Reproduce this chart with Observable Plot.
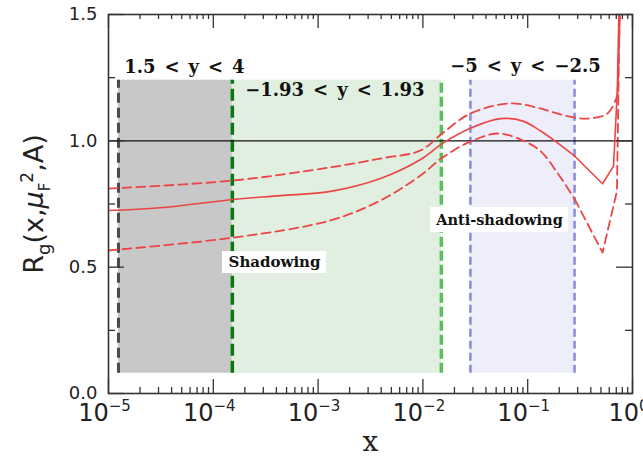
<!DOCTYPE html>
<html><head><meta charset="utf-8">
<script src="https://cdn.jsdelivr.net/npm/d3@7"></script>
<script src="https://cdn.jsdelivr.net/npm/@observablehq/plot@0.6"></script>
<style>body{margin:0;background:#fff}</style>
</head><body><div id="chart"></div>
<script>
// ---- data ----
const centralX = [1e-5, 3.1e-5, 1.56e-4, 4.4e-4, 1.31e-3, 3.94e-3, 9.5e-3, 0.0154, 0.0284, 0.055, 0.09, 0.132, 0.191, 0.28, 0.518, 0.659, 0.715, 0.75];
const centralY = [0.724, 0.735, 0.768, 0.783, 0.80, 0.851, 0.926, 0.99, 1.05, 1.088, 1.078, 1.04, 0.993, 0.94, 0.83, 0.90, 1.19, 1.6];
const upperX = [1e-5, 1.56e-4, 1.31e-3, 3.94e-3, 9.5e-3, 0.0154, 0.0284, 0.0685, 0.132, 0.165, 0.28, 0.372, 0.577, 0.72, 0.77];
const upperY = [0.811, 0.843, 0.895, 0.93, 0.962, 1.03, 1.108, 1.148, 1.128, 1.116, 1.092, 1.088, 1.108, 1.18, 1.6];
const lowerX = [1e-5, 1.56e-4, 1.31e-3, 3.94e-3, 9.5e-3, 0.0154, 0.0284, 0.0526, 0.0912, 0.132, 0.191, 0.28, 0.518, 0.71, 0.76];
const lowerY = [0.566, 0.617, 0.685, 0.764, 0.863, 0.934, 0.997, 1.029, 1.0, 0.96, 0.875, 0.77, 0.558, 0.80, 1.6];

const bandLabels = ["1.5 < y < 4", "\u22121.93 < y < 1.93", "\u22125 < y < \u22122.5"];
const bandXmin = [1.245e-5, 1.52e-4, 0.0284];
const bandXmax = [1.52e-4, 0.0150, 0.28];
const bandYmin = 0.08, bandYmax = 1.24;

const regionLabels = ["Shadowing", "Anti-shadowing"];

const xMajor = [1e-5, 1e-4, 1e-3, 1e-2, 1e-1, 1];
const yMajor = [0, 0.5, 1.0, 1.5];
const yMinor = [0.25, 0.75, 1.25];
const yTickLabels = ["0.0", "0.5", "1.0", "1.5"];

// ---- derived tables ----
const xMinor = xMajor.slice(0, -1).flatMap(d => [2,3,4,5,6,7,8,9].map(k => k * d));
const central = centralX.map((x, i) => ({x, y: centralY[i]}));
const upper = upperX.map((x, i) => ({x, y: upperY[i]}));
const lower = lowerX.map((x, i) => ({x, y: lowerY[i]}));
const bands = bandXmin.map((x1, i) => ({x1, x2: bandXmax[i], label: bandLabels[i], xc: Math.sqrt(x1 * bandXmax[i])}));

const W = 643, H = 456, mL = 108, mR = 11, mT = 14, mB = 63;
const pW = W - mL - mR, pH = H - mT - mB;
const RED = "#ec4545";
const labelFont = "DejaVu Serif";
const SPLIT = bandXmax[2]; // smooth part up to here, straight segments beyond

function bandRect(i, fill) {
  return Plot.rect([bands[i]], {x1: "x1", x2: "x2", y1: bandYmin, y2: bandYmax, fill});
}
function bandRule(xv, stroke, w, dash) {
  return Plot.ruleX([xv], {x: d => d, y1: bandYmin, y2: bandYmax, stroke, strokeWidth: w, strokeDasharray: dash});
}
function curve(data, split, opts) {
  return [
    Plot.line(data.filter(d => d.x <= split), {x: "x", y: "y", stroke: RED, curve: "catmull-rom", clip: true, ...opts}),
    Plot.line(data.filter(d => d.x >= split), {x: "x", y: "y", stroke: RED, curve: "linear", clip: true, ...opts})
  ];
}
const dashed = {strokeWidth: 1.8, strokeDasharray: "9,5"};

const chart = Plot.plot({
  width: W, height: H,
  marginLeft: mL, marginRight: mR, marginTop: mT, marginBottom: mB,
  x: {type: "log", domain: [1e-5, 1]},
  y: {domain: [0, 1.5]},
  style: {background: "white", fontFamily: "DejaVu Sans", color: "#222"},
  marks: [
    bandRect(0, "#c8c8c8"),
    bandRect(1, "#e0efe0"),
    bandRect(2, "#eeeefb"),
    bandRule(bandXmin[0], "#4a4a4a", 3, "10,5"),
    bandRule(bandXmin[1], "#08780f", 3.5, "12,5"),
    bandRule(bandXmax[1], "#5cbd5c", 3.5, "10,4"),
    bandRule(bandXmin[2], "#8a8ad8", 2.5, "8,4"),
    bandRule(bandXmax[2], "#8a8ad8", 2.5, "8,4"),
    Plot.ruleY([1.0], {stroke: "#111", strokeWidth: 1.4}),
    ...curve(upper, upperX[upperX.length - 2], dashed),
    ...curve(lower, SPLIT, dashed),
    ...curve(central, SPLIT, {strokeWidth: 1.6}),
    // region labels with white boxes
    Plot.rect([regionLabels[0]], {x1: 1.224e-4, x2: 1.2e-3, y1: 0.475, y2: 0.562, fill: "white"}),
    Plot.rect([regionLabels[1]], {x1: 0.0118, x2: 0.245, y1: 0.637, y2: 0.736, fill: "white"}),
    Plot.text([regionLabels[0]], {x: 3.84e-4, y: 0.518, text: d => d, fontFamily: labelFont, fontWeight: "bold", fontSize: 15, fill: "#111"}),
    Plot.text([regionLabels[1]], {x: 0.0538, y: 0.687, text: d => d, fontFamily: labelFont, fontWeight: "bold", fontSize: 14.5, fill: "#111"}),
    // rapidity labels
    Plot.text([bands[0]], {x: "xc", y: bandYmax, text: d => d.label.replace(/ /g, "\u2002"), dx: 9, dy: -7, lineAnchor: "bottom", fontFamily: labelFont, fontWeight: "bold", fontSize: 18, fill: "#111"}),
    Plot.text([bands[1]], {x: "xc", y: bandYmax, text: d => d.label.replace(/ /g, "\u2002"), dx: -2, dy: 16, lineAnchor: "bottom", fontFamily: labelFont, fontWeight: "bold", fontSize: 18, fill: "#111"}),
    Plot.text([bands[2]], {x: "xc", y: bandYmax, text: d => d.label.replace(/ /g, "\u2002"), dx: 3, dy: -8, lineAnchor: "bottom", fontFamily: labelFont, fontWeight: "bold", fontSize: 18, fill: "#111"}),
    Plot.frame({stroke: "#333", strokeWidth: 1.6}),
    // inward ticks on all four sides
    Plot.ruleX(xMajor, {x: d => d, insetTop: pH - 14, stroke: "#333", strokeWidth: 1.3}),
    Plot.ruleX(xMinor, {x: d => d, insetTop: pH - 6, stroke: "#333", strokeWidth: 1.3}),
    Plot.ruleX(xMajor, {x: d => d, insetBottom: pH - 14, stroke: "#333", strokeWidth: 1.3}),
    Plot.ruleX(xMinor, {x: d => d, insetBottom: pH - 5, stroke: "#333", strokeWidth: 1.3}),
    Plot.ruleY(yMajor, {y: d => d, insetRight: pW - 16, stroke: "#333", strokeWidth: 1.3}),
    Plot.ruleY(yMinor, {y: d => d, insetRight: pW - 7, stroke: "#333", strokeWidth: 1.3}),
    Plot.ruleY(yMajor, {y: d => d, insetLeft: pW - 16, stroke: "#333", strokeWidth: 1.3}),
    Plot.ruleY(yMinor, {y: d => d, insetLeft: pW - 7, stroke: "#333", strokeWidth: 1.3}),
    Plot.axisX(xMajor, {anchor: "bottom", tickSize: 0, tickPadding: 10, fontSize: 24, dx: -4, label: null,
      tickFormat: d => "10^" + Math.round(Math.log10(d))}),
    Plot.axisY(yMajor, {anchor: "left", tickSize: 0, tickPadding: 11, fontSize: 18, label: null,
      tickFormat: d => yTickLabels[yMajor.indexOf(d)]}),
    Plot.text(["x"], {frameAnchor: "bottom", dy: 57, lineAnchor: "bottom", textAnchor: "middle", text: d => d, fontFamily: labelFont, fontSize: 28, fill: "#222"}),
    Plot.text(["YLABEL"], {frameAnchor: "left", dx: -66, rotate: -90, lineAnchor: "bottom", textAnchor: "middle", text: d => d, fontSize: 27, fill: "#222"})
  ]
});

document.getElementById("chart").appendChild(chart);

// rich-text post-processing (superscripts / subscripts)
const NS = "http://www.w3.org/2000/svg";
function build(el, parts) {
  el.textContent = "";
  for (const p of parts) {
    const t = document.createElementNS(NS, "tspan");
    t.textContent = p.t;
    if (p.dy) t.setAttribute("dy", p.dy);
    if (p.fs) t.setAttribute("font-size", p.fs);
    if (p.it) t.setAttribute("font-style", "italic");
    el.appendChild(t);
  }
}
d3.select(chart).selectAll("text").each(function () {
  const s = this.textContent;
  const m = /^10\^(-?\d+)$/.exec(s);
  if (m) {
    const e = m[1].replace("-", "\u2212");
    build(this, [{t: "10"}, {t: e, dy: -10, fs: 15}]);
  } else if (s === "YLABEL") {
    build(this, [
      {t: "R"}, {t: "g", dy: 7, fs: 18}, {t: "(x,", dy: -7}, {t: "\u03bc", it: true},
      {t: "F", dy: 7, fs: 15}, {t: "2", dy: -17, fs: 17}, {t: ",A)", dy: 10}
    ]);
  }
});
</script>
</body></html>
